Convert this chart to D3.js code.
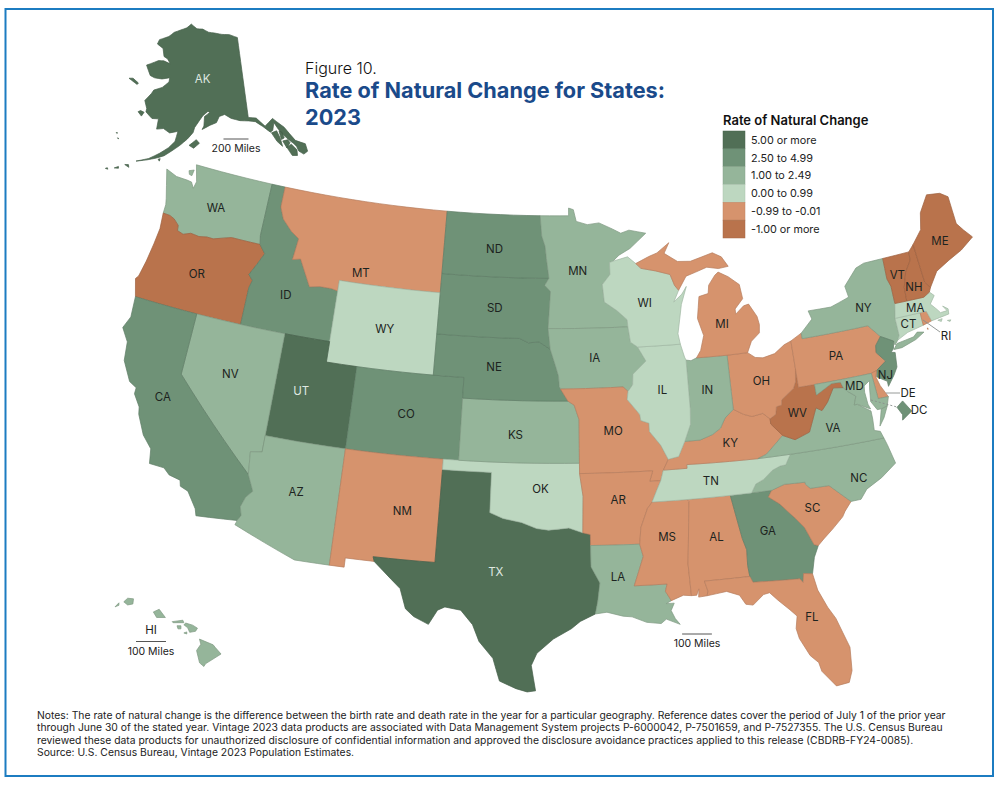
<!DOCTYPE html>
<meta charset="utf-8">
<script src="https://d3js.org/d3.v7.min.js"></script>
<style>
  body { margin: 0; background: #fff; }
  text { font-family: Inter, "Open Sans", sans-serif; }
</style>
<div id="map"></div>
<script>

const bins = ["5.00 or more", "2.50 to 4.99", "1.00 to 2.49", "0.00 to 0.99", "-0.99 to -0.01", "-1.00 or more"];
const binColors = ["#516f56", "#6f9277", "#95b59a", "#bdd7c0", "#d6936d", "#b9734c"];
const statesTop = ["AK", "UT", "TX"];
const statesHigh = ["ID", "ND", "SD", "NE", "CO", "CA", "GA", "NJ", "DC"];
const statesMid = ["WA", "NV", "AZ", "KS", "MN", "IA", "LA", "IN", "NY", "VA", "NC", "MD", "HI"];
const statesLow = ["WY", "OK", "WI", "IL", "TN", "MA", "CT"];
const statesNeg = ["MT", "NM", "MO", "AR", "MS", "AL", "FL", "SC", "MI", "OH", "KY", "PA", "DE", "RI"];
const statesDeep = ["OR", "WV", "ME", "VT", "NH"];

// state outlines, lon/lat rings
const WA = [[[-124.73,48.38],[-123.9,48.17],[-123.1,48.15],[-122.75,48.12],[-122.5,47.85],[-122.4,48.2],[-122.75,49],[-117.03,49],[-117.04,46.42],[-116.92,45.99],[-118.98,46],[-119.3,45.93],[-120.2,45.72],[-120.65,45.73],[-121.2,45.65],[-121.8,45.7],[-122.3,45.55],[-122.75,45.65],[-122.8,45.9],[-123.2,46.15],[-123.55,46.25],[-124.05,46.27],[-124.05,46.7],[-124.15,47],[-124.4,47.6]],
  [[-123.15,48.62],[-122.8,48.72],[-122.85,48.42],[-123.05,48.45]]];
const OR = [[[-124.05,46.27],[-123.55,46.25],[-123.2,46.15],[-122.8,45.9],[-122.75,45.65],[-122.3,45.55],[-121.8,45.7],[-121.2,45.65],[-120.65,45.73],[-120.2,45.72],[-119.3,45.93],[-118.98,46],[-116.92,45.99],[-116.47,45.6],[-116.85,45],[-117.22,44.45],[-116.9,44.2],[-117.03,43.83],[-117.03,42],[-120,42],[-124.2,42],[-124.55,42.84],[-124.4,43],[-124.2,43.8],[-124.05,44.7],[-123.95,45.5]]];
const ID = [[[-117.03,49],[-116.05,49],[-116.05,48],[-115.7,47.45],[-114.95,46.93],[-114.35,46.65],[-114.5,45.6],[-113.95,45.7],[-113.45,45.05],[-113,44.45],[-112.3,44.55],[-111.5,44.55],[-111.05,44.48],[-111.05,42],[-114.05,42],[-117.03,42],[-117.03,43.83],[-116.9,44.2],[-117.22,44.45],[-116.85,45],[-116.47,45.6],[-116.92,45.99],[-117.04,46.42]]];
const MT = [[[-116.05,49],[-104.05,49],[-104.05,45.94],[-104.05,45],[-111.05,45],[-111.05,44.48],[-111.5,44.55],[-112.3,44.55],[-113,44.45],[-113.45,45.05],[-113.95,45.7],[-114.5,45.6],[-114.35,46.65],[-114.95,46.93],[-115.7,47.45],[-116.05,48]]];
const WY = [[[-111.05,45],[-104.05,45],[-104.05,43],[-104.05,41],[-109.05,41],[-111.05,41],[-111.05,42],[-111.05,44.48]]];
const UT = [[[-114.05,42],[-111.05,42],[-111.05,41],[-109.05,41],[-109.05,37],[-114.05,37],[-114.05,36.2]]];
const CO = [[[-109.05,41],[-104.05,41],[-102.05,41],[-102.05,40],[-102.05,37],[-103,37],[-109.05,37]]];
const NV = [[[-120,42],[-117.03,42],[-114.05,42],[-114.05,37],[-114.05,36.2],[-114.75,36.1],[-114.6,35],[-120,39]]];
const CA = [[[-124.2,42],[-120,42],[-120,39],[-114.6,35],[-114.15,34.25],[-114.5,33.9],[-114.7,33.4],[-114.55,33],[-114.72,32.72],[-117.12,32.53],[-117.25,32.85],[-117.9,33.6],[-118.4,33.75],[-118.5,34.03],[-119.2,34.15],[-119.6,34.42],[-120.5,34.45],[-120.65,35.15],[-121.3,35.7],[-121.9,36.6],[-122,36.95],[-122.5,37.5],[-122.5,37.8],[-123,38],[-123.7,38.9],[-123.85,39.8],[-124.4,40.4],[-124.1,41]]];
const AZ = [[[-114.05,37],[-109.05,37],[-109.05,31.33],[-111.07,31.33],[-114.8,32.5],[-114.72,32.72],[-114.55,33],[-114.7,33.4],[-114.5,33.9],[-114.15,34.25],[-114.6,35],[-114.75,36.1],[-114.05,36.2]]];
const NM = [[[-109.05,37],[-103,37],[-103,36.5],[-103.04,32],[-106.62,32],[-106.53,31.78],[-108.2,31.78],[-108.2,31.33],[-109.05,31.33]]];
const TX = [[[-103,36.5],[-100,36.5],[-100,34.56],[-99.2,34.3],[-98.1,34.13],[-97.2,33.85],[-96.5,33.78],[-95.3,33.88],[-94.48,33.64],[-94.04,33.55],[-94.04,33.02],[-94.04,31.99],[-93.55,31.2],[-93.7,30.3],[-93.85,29.7],[-94.7,29.35],[-95.2,29],[-96.2,28.5],[-97.1,27.8],[-97.4,27.2],[-97.15,25.96],[-97.6,25.9],[-98.2,26.05],[-99.1,26.4],[-99.5,27.5],[-100.3,28.3],[-100.7,29.1],[-101.4,29.77],[-102.3,29.88],[-102.7,29.7],[-103.15,28.98],[-104,29.3],[-104.5,29.65],[-104.9,30.6],[-106,31.4],[-106.53,31.78],[-106.62,32],[-103.04,32]]];
const OK = [[[-103,37],[-102.05,37],[-94.62,37],[-94.62,36.5],[-94.43,35.4],[-94.48,33.64],[-95.3,33.88],[-96.5,33.78],[-97.2,33.85],[-98.1,34.13],[-99.2,34.3],[-100,34.56],[-100,36.5],[-103,36.5]]];
const KS = [[[-102.05,40],[-95.3,40],[-94.9,39.8],[-94.6,39.1],[-94.62,37],[-102.05,37]]];
const NE = [[[-104.05,43],[-98.5,43],[-97.9,42.8],[-97.2,42.85],[-96.45,42.5],[-96.1,41.7],[-95.9,41.2],[-95.85,40.7],[-95.77,40.58],[-95.3,40],[-102.05,40],[-102.05,41],[-104.05,41]]];
const SD = [[[-104.05,45.94],[-96.56,45.94],[-96.85,45.6],[-96.45,45.3],[-96.6,43.5],[-96.45,42.5],[-97.2,42.85],[-97.9,42.8],[-98.5,43],[-104.05,43],[-104.05,45]]];
const ND = [[[-104.05,49],[-97.23,49],[-97.1,48],[-96.85,47.5],[-96.75,46.9],[-96.56,45.94],[-104.05,45.94]]];
const MN = [[[-97.23,49],[-95.15,49],[-95.15,49.38],[-94.8,49.3],[-94.6,48.72],[-93.8,48.55],[-92.95,48.62],[-92,48.3],[-91.4,48.07],[-90.8,48.2],[-89.6,48],[-90.8,47.3],[-91.6,47],[-92.05,46.72],[-92.29,46.66],[-92.29,46.08],[-92.85,45.6],[-92.75,44.75],[-91.9,44.3],[-91.25,43.85],[-91.22,43.5],[-96.6,43.5],[-96.45,45.3],[-96.85,45.6],[-96.56,45.94],[-96.75,46.9],[-96.85,47.5],[-97.1,48]]];
const IA = [[[-96.6,43.5],[-91.22,43.5],[-91.1,42.75],[-90.65,42.5],[-90.15,41.8],[-91.05,41.2],[-91.1,40.7],[-91.42,40.38],[-91.73,40.61],[-95.77,40.58],[-95.85,40.7],[-95.9,41.2],[-96.1,41.7],[-96.45,42.5]]];
const MO = [[[-95.77,40.58],[-91.73,40.61],[-91.42,40.38],[-91.5,40],[-90.75,39.25],[-90.7,38.95],[-90.2,38.8],[-90.2,38.4],[-89.55,37.7],[-89.15,37],[-89.5,36.5],[-89.7,36],[-90.37,36],[-90.15,36.5],[-94.62,36.5],[-94.62,37],[-94.6,39.1],[-94.9,39.8],[-95.3,40]]];
const AR = [[[-94.62,36.5],[-90.15,36.5],[-90.37,36],[-89.7,36],[-89.95,35.6],[-90.3,35],[-90.6,34.7],[-91.05,33.8],[-91.17,33],[-94.04,33.02],[-94.04,33.55],[-94.48,33.64],[-94.43,35.4]]];
const LA = [[[-94.04,33.02],[-91.17,33],[-91,32.4],[-91.6,31],[-89.73,31],[-89.85,30.65],[-89.55,30.18],[-89.85,30.05],[-89.4,30.05],[-89.6,29.7],[-89.4,29.3],[-89.15,29],[-89.9,29.3],[-90.2,29.1],[-91,29.2],[-91.8,29.5],[-92.3,29.55],[-93.2,29.77],[-93.85,29.7],[-93.7,30.3],[-93.55,31.2],[-94.04,31.99]]];
const MS = [[[-90.3,35],[-88.2,35],[-88.1,34.9],[-88.45,31.9],[-88.4,30.35],[-88.85,30.4],[-89.55,30.18],[-89.85,30.65],[-89.73,31],[-91.6,31],[-91,32.4],[-91.17,33],[-91.05,33.8],[-90.6,34.7]]];
const AL = [[[-88.2,35],[-85.6,35],[-85.18,32.87],[-85,32.3],[-85.05,31.55],[-85,31],[-87.6,31],[-87.45,30.5],[-87.52,30.28],[-88,30.25],[-87.95,30.65],[-88.1,30.35],[-88.4,30.35],[-88.45,31.9],[-88.1,34.9]]];
const GA = [[[-85.6,35],[-84.32,35],[-83.1,35],[-83.35,34.7],[-82.75,34.3],[-81.95,33.5],[-81.5,33],[-81.1,32.1],[-80.87,32.03],[-81.2,31.5],[-81.45,30.72],[-81.95,30.8],[-82.05,30.37],[-82.2,30.57],[-84.86,30.7],[-85,31],[-85.05,31.55],[-85,32.3],[-85.18,32.87]]];
const FL = [[[-87.6,31],[-85,31],[-84.86,30.7],[-82.2,30.57],[-82.05,30.37],[-81.95,30.8],[-81.45,30.72],[-81.3,29.9],[-80.9,29],[-80.55,28.4],[-80.05,26.9],[-80.15,25.75],[-80.4,25.2],[-81.1,25.13],[-81.75,25.95],[-81.85,26.4],[-82.25,26.8],[-82.7,27.7],[-82.8,28.2],[-82.65,28.8],[-83,29.15],[-83.6,29.7],[-84,30.1],[-84.35,30.05],[-85,29.6],[-85.4,29.68],[-85.7,30.15],[-86.4,30.4],[-87.52,30.28],[-87.45,30.5]]];
const SC = [[[-83.1,35],[-82.3,35.2],[-81.05,35.15],[-81.05,35.05],[-80.8,34.82],[-79.67,34.8],[-78.55,33.86],[-79,33.45],[-79.2,33.2],[-79.9,32.7],[-80.5,32.3],[-80.87,32.03],[-81.1,32.1],[-81.5,33],[-81.95,33.5],[-82.75,34.3],[-83.35,34.7]]];
const NC = [[[-84.32,35],[-84,35.4],[-83.5,35.57],[-82.9,35.95],[-82.4,36.1],[-82.05,36.12],[-81.68,36.59],[-75.87,36.55],[-75.75,36.2],[-75.5,35.25],[-76.5,34.7],[-77.5,34.3],[-77.95,33.87],[-78.55,33.86],[-79.67,34.8],[-80.8,34.82],[-81.05,35.05],[-81.05,35.15],[-82.3,35.2],[-83.1,35]]];
const TN = [[[-89.5,36.5],[-88.05,36.5],[-88.05,36.68],[-83.68,36.6],[-81.68,36.59],[-82.05,36.12],[-82.4,36.1],[-82.9,35.95],[-83.5,35.57],[-84,35.4],[-84.32,35],[-85.6,35],[-88.2,35],[-90.3,35],[-89.95,35.6],[-89.7,36]]];
const KY = [[[-89.5,36.5],[-88.05,36.5],[-88.05,36.68],[-83.68,36.6],[-83.13,36.75],[-81.97,37.54],[-82.6,38.17],[-82.6,38.42],[-83,38.73],[-83.7,38.65],[-84.2,38.8],[-84.82,39.1],[-85.4,38.73],[-85.75,38.27],[-86.3,38],[-87.1,37.8],[-88.05,37.8],[-88.5,37.1],[-89.15,37]]];
const VA = [[[-83.68,36.6],[-81.68,36.59],[-75.87,36.55],[-76,36.9],[-76.35,37],[-76.3,37.55],[-76.3,37.95],[-77.05,38.4],[-77.25,38.4],[-77.04,38.8],[-77.5,39.1],[-77.72,39.32],[-78.35,39.4],[-78.87,38.77],[-79.3,38.42],[-79.65,38.6],[-80.3,37.5],[-81.25,37.25],[-81.97,37.54],[-83.13,36.75]],
  [[-75.95,37.15],[-75.65,37.95],[-75.24,38.03],[-75.6,37.5]]];
const WV = [[[-81.97,37.54],[-81.25,37.25],[-80.3,37.5],[-79.65,38.6],[-79.3,38.42],[-78.87,38.77],[-78.35,39.4],[-77.72,39.32],[-77.83,39.6],[-78.4,39.62],[-79.48,39.2],[-79.48,39.72],[-80.52,39.72],[-80.52,40.64],[-80.65,40],[-80.85,39.7],[-81.7,39.25],[-81.75,39],[-82.1,38.95],[-82.2,38.6],[-82.6,38.42],[-82.6,38.17]]];
const OH = [[[-84.82,39.1],[-84.81,41.73],[-83.45,41.73],[-83,41.45],[-82.5,41.38],[-81.7,41.5],[-81,41.85],[-80.52,41.98],[-80.52,40.64],[-80.65,40],[-80.85,39.7],[-81.7,39.25],[-81.75,39],[-82.1,38.95],[-82.2,38.6],[-82.6,38.42],[-83,38.73],[-83.7,38.65],[-84.2,38.8]]];
const IN = [[[-87.52,41.7],[-87.2,41.65],[-86.82,41.76],[-84.81,41.73],[-84.82,39.1],[-85.4,38.73],[-85.75,38.27],[-86.3,38],[-87.1,37.8],[-88.05,37.8],[-87.6,38.6],[-87.53,39.35]]];
const IL = [[[-90.65,42.5],[-87.8,42.49],[-87.6,41.85],[-87.52,41.7],[-87.53,39.35],[-87.6,38.6],[-88.05,37.8],[-88.5,37.1],[-89.15,37],[-89.55,37.7],[-90.2,38.4],[-90.2,38.8],[-90.7,38.95],[-90.75,39.25],[-91.5,40],[-91.42,40.38],[-91.1,40.7],[-91.05,41.2],[-90.15,41.8]]];
const WI = [[[-92.29,46.66],[-92.05,46.72],[-91,46.9],[-90.45,46.55],[-90.1,46.3],[-89.1,46.13],[-88.1,45.9],[-87.85,45.35],[-87.6,45.1],[-88,44.55],[-87.4,44.9],[-87.05,45.25],[-87.5,44.4],[-87.7,43.7],[-87.9,43],[-87.8,42.49],[-90.65,42.5],[-91.1,42.75],[-91.22,43.5],[-91.25,43.85],[-91.9,44.3],[-92.75,44.75],[-92.85,45.6],[-92.29,46.08]]];
const MI = [[[-90.45,46.55],[-89.5,46.85],[-88.9,47],[-88,47.45],[-88.4,46.95],[-87.5,46.5],[-86.6,46.45],[-85,46.75],[-84.4,46.5],[-84,46],[-84.7,45.95],[-85.5,46.08],[-86.3,45.9],[-87,45.75],[-87.6,45.1],[-87.85,45.35],[-88.1,45.9],[-89.1,46.13],[-90.1,46.3]],
  [[-86.82,41.76],[-86.5,42.1],[-86.2,42.8],[-86.5,43.65],[-86.25,44.7],[-85.6,44.8],[-85.5,45.2],[-85,45.65],[-84.75,45.78],[-84.1,45.5],[-83.4,45.05],[-83.3,44.35],[-83.9,43.9],[-83.9,43.65],[-83.3,44],[-82.95,44.05],[-82.5,43.4],[-82.42,43],[-82.5,42.6],[-83.1,42.25],[-83.45,41.73],[-84.81,41.73]]];
const PA = [[[-80.52,41.98],[-79.76,42.27],[-79.76,42],[-75.35,42],[-74.7,41.36],[-75.13,40.98],[-75.2,40.65],[-74.72,40.15],[-75.42,39.8],[-75.79,39.72],[-79.48,39.72],[-80.52,39.72],[-80.52,40.64]]];
const NY = [[[-79.76,42],[-79.76,42.27],[-78.9,42.85],[-79.05,43.27],[-77.5,43.25],[-76.4,43.5],[-76.2,43.55],[-76.3,44.1],[-75.3,44.85],[-74.7,45],[-73.35,45.01],[-73.4,44],[-73.25,43.6],[-73.27,42.75],[-73.49,42.05],[-73.49,41.2],[-73.65,41],[-73.9,40.8],[-73.93,41],[-74.7,41.36],[-75.35,42]],
  [[-74.03,40.6],[-73.75,40.85],[-72.6,40.97],[-72.3,41.15],[-71.87,41.07],[-72.5,40.82],[-73.5,40.6]]];
const NJ = [[[-74.7,41.36],[-73.93,41],[-74.05,40.65],[-74.25,40.5],[-74,40.45],[-74.1,39.75],[-74.4,39.4],[-74.9,38.93],[-74.9,39.18],[-75.5,39.5],[-75.42,39.8],[-74.72,40.15],[-75.2,40.65],[-75.13,40.98]]];
const DE = [[[-75.79,39.72],[-75.42,39.8],[-75.55,39.5],[-75.4,39.05],[-75.05,38.45],[-75.7,38.46]]];
const MD = [[[-79.48,39.72],[-75.79,39.72],[-75.7,38.46],[-75.05,38.45],[-75.24,38.03],[-75.65,37.95],[-75.9,37.95],[-76.2,38.4],[-76.1,39],[-76,39.4],[-76.4,39.2],[-76.45,38.9],[-76.4,38.3],[-76.3,38.05],[-77.05,38.4],[-77.25,38.4],[-77.04,38.8],[-77.5,39.1],[-77.72,39.32],[-77.83,39.6],[-78.4,39.62],[-79.48,39.2]]];
const DC = [[[-77.12,38.93],[-77.04,39],[-76.91,38.89],[-77.04,38.79],[-77.04,38.85]]];
const CT = [[[-73.49,42.05],[-71.8,42.02],[-71.8,41.4],[-72.9,41.25],[-73.65,41],[-73.49,41.2]]];
const RI = [[[-71.8,42.02],[-71.38,42.02],[-71.2,41.5],[-71.8,41.4]], [[-71.6,41.22],[-71.55,41.2],[-71.58,41.14]]];
const MA = [[[-73.27,42.75],[-72.46,42.73],[-71.3,42.7],[-70.85,42.87],[-70.6,42.65],[-71,42.3],[-70.65,41.95],[-70.5,41.77],[-70.05,41.78],[-70.25,42.05],[-69.95,41.85],[-70,41.6],[-70.65,41.55],[-71.2,41.5],[-71.38,42.02],[-71.8,42.02],[-73.49,42.05]],
  [[-70.8,41.45],[-70.5,41.47],[-70.6,41.35]], [[-70.2,41.32],[-69.97,41.3],[-70.05,41.24]]];
const VT = [[[-73.35,45.01],[-71.5,45.01],[-71.55,44.6],[-72.05,44.1],[-72.4,43.4],[-72.46,42.73],[-73.27,42.75],[-73.25,43.6],[-73.4,44]]];
const NH = [[[-71.5,45.01],[-71.08,45.3],[-70.98,43.4],[-70.7,43.07],[-70.85,42.87],[-71.3,42.7],[-72.46,42.73],[-72.4,43.4],[-72.05,44.1],[-71.55,44.6]]];
const ME = [[[-71.08,45.3],[-70.3,45.9],[-70,46.7],[-69.23,47.46],[-68.3,47.35],[-67.8,47.07],[-67.8,45.7],[-67.45,45.3],[-67,44.85],[-68,44.4],[-69,44.1],[-70,43.75],[-70.7,43.07],[-70.98,43.4]]];
const AK = [[[-141,69.65],[-143.5,70.1],[-146,70.2],[-148.5,70.4],[-150.5,70.5],[-152.5,70.85],[-154.5,70.85],[-156.6,71.35],[-158,70.85],[-160,70.5],[-162,70.1],[-163.5,69.5],[-166.2,68.9],[-166.5,68.35],[-164.5,68],[-163.7,67.1],[-162.5,66.9],[-161.5,66.4],[-163.5,66.6],[-165,66.5],[-168,65.65],[-166.3,64.6],[-165,64.45],[-163,64.5],[-161,64.8],[-161,64.3],[-162.5,63.55],[-164.5,63.05],[-164.9,62.6],[-166.1,61.65],[-165.2,60.8],[-165.2,60.4],[-163.5,59.8],[-162,59.9],[-162,58.7],[-160.5,58.9],[-159,58.5],[-157.2,58.8],[-157.6,57.6],[-158.8,56.8],[-160.5,56],[-162.5,55.2],[-164.9,54.6],[-162.8,55],[-161,55.4],[-159.5,55.8],[-158,56.5],[-156.5,57.2],[-155,58],[-153.8,58.8],[-153.5,59.4],[-152.5,60.2],[-151.7,60.8],[-150.5,61.3],[-150,61.2],[-151.3,60.7],[-151.4,59.6],[-151.8,59.2],[-150,59.7],[-148.5,60],[-147.8,60.7],[-146.5,60.9],[-145,60.4],[-143,60.05],[-141,59.9],[-139.5,59.7],[-138,59],[-136.6,58.2],[-136,58.35],[-135.4,59.2],[-134.8,58.4],[-133.9,57.5],[-133,56.8],[-132.3,56.3],[-131.9,55.9],[-131.7,55.3],[-130.9,54.8],[-130,55],[-130,55.9],[-131.8,56.6],[-133.4,58.4],[-135.5,59.7],[-137.5,59],[-139.2,60.1],[-141,60.3]],
  [[-136.4,58.1],[-135.2,58.2],[-134.8,57.3],[-134.7,56.3],[-135.6,57]], [[-134.7,58.15],[-134.1,57.9],[-133.95,57.2],[-134.6,57.1]], [[-134.4,56.9],[-133.3,56.9],[-133,56.5],[-133.9,56]], [[-133.9,56.1],[-132.8,56.3],[-132,55.5],[-132.2,54.85],[-133.2,55]],
  [[-154.5,57.3],[-153.5,57],[-152.3,57.6],[-153,58]], [[-171.5,63.6],[-169,63.2],[-168.8,63.4],[-170.5,63.75]], [[-167,60.2],[-166,59.8],[-165.6,60.3],[-166.5,60.4]],
  [[-166.9,53.9],[-166,53.7],[-166.2,54]], [[-168.7,53.2],[-167.9,53.3],[-168,53.5]], [[-170.3,52.85],[-169.8,52.85],[-170,53]], [[-170.4,57.2],[-170.1,57.2],[-170.2,57.1]], [[-169.8,56.65],[-169.5,56.62],[-169.6,56.55]], [[-160.6,55.3],[-160.2,55.4],[-160.3,55.1]]];
const HI = [[[-155.9,20.25],[-155.2,19.97],[-155.1,19.85],[-154.8,19.52],[-155.6,19.05],[-155.68,18.92],[-155.9,19.1],[-156.05,19.7],[-155.83,20]],
  [[-156.7,20.95],[-156.6,21.03],[-156.25,20.93],[-156,20.78],[-156.1,20.63],[-156.4,20.58],[-156.5,20.8]],
  [[-157.3,21.1],[-156.75,21.17],[-156.7,21.05],[-157.25,21.05]], [[-157.05,20.9],[-156.85,20.9],[-156.85,20.75],[-157,20.75]], [[-156.7,20.55],[-156.55,20.6],[-156.55,20.5]],
  [[-158.27,21.57],[-157.97,21.7],[-157.65,21.3],[-158.1,21.3]], [[-159.8,22.05],[-159.6,22.23],[-159.3,22.2],[-159.33,21.95],[-159.6,21.9]], [[-160.25,21.8],[-160.05,22],[-160.05,21.88]]];

const shapes = {WA, OR, ID, MT, WY, UT, CO, NV, CA, AZ, NM, TX, OK, KS, NE, SD, ND, MN, IA, MO, AR, LA, MS, AL, GA, FL, SC, NC, TN, KY, VA, WV, OH, IN, IL, WI, MI, PA, NY, NJ, DE, MD, DC, CT, RI, MA, VT, NH, ME, AK, HI};

const noteLines = [
  "Notes: The rate of natural change is the difference between the birth rate and death rate in the year for a particular geography. Reference dates cover the period of July 1 of the prior year",
  "through June 30 of the stated year. Vintage 2023 data products are associated with Data Management System projects P-6000042, P-7501659, and P-7527355. The U.S. Census Bureau",
  "reviewed these data products for unauthorized disclosure of confidential information and approved the disclosure avoidance practices applied to this release (CBDRB-FY24-0085).",
  "Source: U.S. Census Bureau, Vintage 2023 Population Estimates."
];

var width = 1000, height = 787;

var svg = d3.select("#map").append("svg")
    .attr("width", width)
    .attr("height", height)
    .style("display", "block");

svg.append("rect")
    .attr("x", 5.5).attr("y", 9)
    .attr("width", 987.5).attr("height", 767)
    .attr("fill", "#fff")
    .attr("stroke", "#1c7cc1")
    .attr("stroke-width", 2);

// projections, one each for lower 48 / Alaska / Hawaii / the DC callout
var lower48 = d3.geoConicEqualArea().parallels([29.5, 45.5]).rotate([96, 0]).center([0, 37.5]).scale(1178).translate([557, 453]);
var alaska = d3.geoConicEqualArea().parallels([55, 65]).rotate([150, 0]).center([0, 64]).scale(495).translate([210, 88]);
var hawaii = d3.geoConicEqualArea().parallels([8, 18]).rotate([157, 0]).center([0, 20.5]).scale(1186).translate([178, 634]);
var dcBox = d3.geoConicEqualArea().parallels([29.5, 45.5]).rotate([77.02, 0]).center([0, 38.89]).scale(5200).translate([904, 411]);

function projFor(id) {
  if (id == "AK") return alaska;
  if (id == "HI") return hawaii;
  if (id == "DC") return dcBox;
  return lower48;
}

var color = d3.scaleOrdinal().domain(bins).range(binColors);
var binLists = [statesTop, statesHigh, statesMid, statesLow, statesNeg, statesDeep];
function binOf(id) {
  return bins[binLists.findIndex(function(l) { return l.includes(id); })];
}

// borders on parallels have to curve, so add vertices on long straight edges
function dense(ring) {
  var out = [];
  ring.forEach(function(p, i) {
    var q = ring[(i + 1) % ring.length];
    var n = Math.ceil(Math.max(Math.abs(q[0] - p[0]), Math.abs(q[1] - p[1])));
    for (var k = 0; k < n; k++) out.push([p[0] + (q[0] - p[0]) * k / n, p[1] + (q[1] - p[1]) * k / n]);
  });
  out.push(out[0].slice());
  return out;
}

function toFeature(id) {
  var polys = shapes[id].map(function(r) {
    var ring = dense(r);
    // d3 wants clockwise rings
    if (d3.geoArea({type: "Polygon", coordinates: [ring]}) > 2 * Math.PI) ring.reverse();
    return [ring];
  });
  return {type: "Feature", id: id, geometry: {type: "MultiPolygon", coordinates: polys}};
}

var states = Object.keys(shapes).map(toFeature);

svg.append("g").selectAll("path")
  .data(states)
  .enter()
  .append("path")
    .attr("d", function(d) { return d3.geoPath(projFor(d.id))(d); })
    .attr("fill", function(d) { return color(binOf(d.id)); })
    .attr("stroke", function(d) { return d3.color(color(binOf(d.id))).darker(0.45); })
    .attr("stroke-width", 0.7)
    .attr("stroke-linejoin", "round");

// centroid is close for most labels, the rest get nudged
var nudge = {AK:[1,-8], WA:[-2,3], OR:[-2,1], CA:[-17,-16], NV:[-4,-6], ID:[0,10], MT:[-5,31], UT:[-10,-4], AZ:[2,-6], NM:[15,3], ND:[0,3], NE:[-5,-1], KS:[-4,3], OK:[8,-3], TX:[-4,-6], MN:[-4,0], MO:[-1,-3], AR:[2,-6], LA:[-10,-9], IL:[-1,-6], IN:[-1,-6], MI:[9,19], TN:[-5,2], MS:[1,-11], AL:[2,-7], GA:[-5,-8], FL:[11,-2], NC:[24,9], VA:[0,1], WV:[-3,3], NY:[2,1], NH:[-1,8], ME:[2,5], MA:[-4,0], NJ:[-1,15], MD:[-4,-5]};
var offMap = {RI:[946,336], DE:[908,393], DC:[919,410], HI:[151,630]};

svg.append("g").selectAll("text")
  .data(states)
  .enter()
  .append("text")
    .attr("transform", function(d) {
      if (offMap[d.id]) return "translate(" + offMap[d.id] + ")";
      var c = d3.geoPath(projFor(d.id)).centroid(d), n = nudge[d.id] || [0, 0];
      return "translate(" + [c[0] + n[0], c[1] + n[1]] + ")";
    })
    .attr("text-anchor", "middle")
    .attr("dy", "0.36em")
    .attr("font-size", 11.5)
    .attr("fill", function(d) { return statesTop.includes(d.id) ? "#dfe8e0" : "#1c2320"; })
    .text(function(d) { return d.id; });

// leaders for the small states
var leaders = [[[923, 320], [940, 332], "none"], [[886, 393], [900, 393], "none"], [[871, 400], [897, 407], "2,2"]];
svg.append("g").selectAll("line")
  .data(leaders)
  .enter()
  .append("line")
    .attr("x1", function(d) { return d[0][0]; }).attr("y1", function(d) { return d[0][1]; })
    .attr("x2", function(d) { return d[1][0]; }).attr("y2", function(d) { return d[1][1]; })
    .attr("stroke", "#8a8f8c")
    .attr("stroke-width", 0.9)
    .attr("stroke-dasharray", function(d) { return d[2]; });

// scale bars, length taken from each projection's scale
function scaleBar(proj, miles, cx, y) {
  var len = miles / 3959 * proj.scale();
  svg.append("line")
      .attr("x1", cx - len / 2).attr("x2", cx + len / 2)
      .attr("y1", y).attr("y2", y)
      .attr("stroke", "#555").attr("stroke-width", 1);
  svg.append("text")
      .attr("x", cx).attr("y", y + 13)
      .attr("text-anchor", "middle")
      .attr("font-size", 10.5)
      .attr("fill", "#222")
      .text(miles + " Miles");
}
scaleBar(alaska, 200, 236, 139);
scaleBar(lower48, 100, 697, 634);
scaleBar(hawaii, 100, 151, 641.5);

// title
svg.append("text").attr("x", 305).attr("y", 74).attr("font-size", 16).attr("font-weight", 300).attr("fill", "#111").text("Figure 10.");
svg.append("text").attr("x", 305).attr("y", 98).attr("font-size", 21.7).attr("font-weight", 700).attr("fill", "#1a4a8a").text("Rate of Natural Change for States:");
svg.append("text").attr("x", 305).attr("y", 125).attr("font-size", 21.7).attr("font-weight", 700).attr("fill", "#1a4a8a").text("2023");

// legend
var legend = svg.append("g").attr("transform", "translate(723,0)");
legend.append("text").attr("y", 125).attr("font-size", 13).attr("font-weight", 600).attr("fill", "#111").text("Rate of Natural Change");
var swatchY = d3.scaleBand().domain(bins).range([131, 238]);
legend.selectAll("rect")
  .data(bins)
  .enter()
  .append("rect")
    .attr("y", function(d) { return swatchY(d); })
    .attr("width", 22)
    .attr("height", swatchY.bandwidth())
    .attr("fill", function(d) { return color(d); })
    .attr("stroke", function(d) { return d3.color(color(d)).darker(0.3); })
    .attr("stroke-width", 0.5);
legend.selectAll("text.lab")
  .data(bins)
  .enter()
  .append("text")
    .attr("class", "lab")
    .attr("x", 28)
    .attr("y", function(d) { return swatchY(d) + swatchY.bandwidth() / 2; })
    .attr("dy", "0.36em")
    .attr("font-size", 10.8)
    .attr("fill", "#222")
    .text(function(d) { return d; });

// notes
svg.append("g").selectAll("text")
  .data(noteLines)
  .enter()
  .append("text")
    .attr("x", 37)
    .attr("y", function(d, i) { return 719 + i * 12.3; })
    .attr("font-size", 10.35)
    .attr("fill", "#222")
    .text(function(d) { return d; });

</script>
